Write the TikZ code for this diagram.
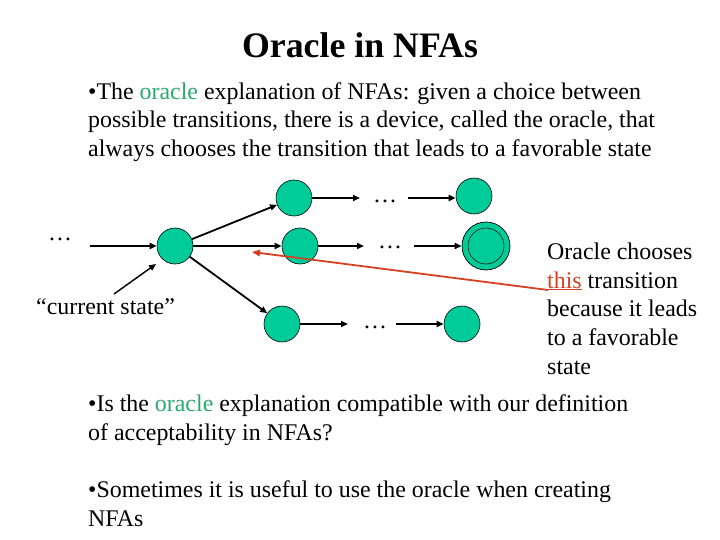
\documentclass[tikz,border=0pt]{standalone}
\usepackage{fontspec}
\setmainfont{Liberation Serif}
\usetikzlibrary{arrows.meta}
\definecolor{stgreen}{RGB}{0,204,153}
\definecolor{orgreen}{RGB}{40,170,110}
\definecolor{orred}{RGB}{215,65,35}
\tikzset{
  st/.style={circle,draw=black,line width=0.6pt,fill=stgreen,minimum size=36pt,inner sep=0pt},
  acc/.style={circle,draw=black,line width=0.7pt,fill=stgreen,minimum size=48pt,inner sep=0pt},
  arr/.style={line width=1.8pt,-{Triangle[length=7pt,width=6pt]}},
  body/.style={anchor=base west,inner sep=0pt,font=\fontsize{23.9}{28}\selectfont},
  dots/.style={inner sep=0pt,font=\fontsize{23.9}{28}\selectfont},
}
\begin{document}
\begin{tikzpicture}[x=1pt,y=-1pt]
\useasboundingbox (0,0) rectangle (720,540);
% title
\node[anchor=base,inner sep=0pt,font=\fontsize{35.8}{40}\selectfont\bfseries] (title) at (360,58) {Oracle in NFAs};
% bullet 1
\node[body] (b1a) at (88,100) {•The \textcolor{orgreen}{oracle} explanation of NFAs: given a choice between};
\node[body] (b1b) at (88,128) {possible transitions, there is a device, called the oracle, that};
\node[body] (b1c) at (88,157) {always chooses the transition that leads to a favorable state};
% states
\node[st] (c0) at (175,246) {};
\node[st] (t1) at (294,198) {};
\node[st] (m1) at (300,246) {};
\node[st] (b1) at (282,324) {};
\node[st] (t2) at (474,196) {};
\node[acc] (m2) at (486,246) {};
\node[circle,draw=black,line width=0.5pt,minimum size=36pt,inner sep=0pt] (m2i) at (m2) {};
\node[st] (b2) at (462,324) {};
% dots
\node[dots] (dl) at (60,239) {…};
\node[dots] (dt) at (385,201) {…};
\node[dots] (dm) at (390,247) {…};
\node[dots] (db) at (375,327) {…};
% coordinates
\coordinate (inl) at (90,246);
\coordinate (t1e) at (360,198);
\coordinate (t2s) at (408,198);
\coordinate (m1e) at (364,246);
\coordinate (m2s) at (414,246);
\coordinate (b1e) at (348,324);
\coordinate (b2s) at (396,324);
% arrows
\draw[arr] (inl) -- (c0);
\draw[arr] (c0) -- (t1);
\draw[arr] (c0) -- (m1);
\draw[arr] (c0) -- (b1);
\draw[arr] (t1.east |- t1e) -- (t1e);
\draw[arr] (t2s) -- (t2s -| t2.west);
\draw[arr] (m1) -- (m1e);
\draw[arr] (m2s) -- (m2);
\draw[arr] (b1) -- (b1e);
\draw[arr] (b2s) -- (b2);
% current state label
\node[anchor=base west,inner sep=0pt,font=\fontsize{23.9}{28}\selectfont] (cs) at (36,314) {“current state”};
\coordinate (csa) at (114,294);
\draw[line width=1.4pt,-{Triangle[length=7pt,width=6pt]}] (csa) -- (156,264);
% right text
\node[body] (r1) at (547,259) {Oracle chooses};
\node[body] (r2) at (547,288) {\textcolor{orred}{\underline{this}} transition};
\node[body] (r3) at (547,316) {because it leads};
\node[body] (r4) at (547,345) {to a favorable};
\node[body] (r5) at (547,374) {state};
\coordinate (thisend) at (548,290);
\coordinate (redtip) at (252,252);
\draw[orred,line width=1.8pt,-{Triangle[length=8pt,width=6.5pt]}] (thisend) -- (redtip);
% bullet 2
\node[body] (b2a) at (88,411) {•Is the \textcolor{orgreen}{oracle} explanation compatible with our definition};
\node[body] (b2b) at (88,440) {of acceptability in NFAs?};
% bullet 3
\node[body] (b3a) at (88,497) {•Sometimes it is useful to use the oracle when creating};
\node[body] (b3b) at (88,526) {NFAs};
\end{tikzpicture}
\end{document}
